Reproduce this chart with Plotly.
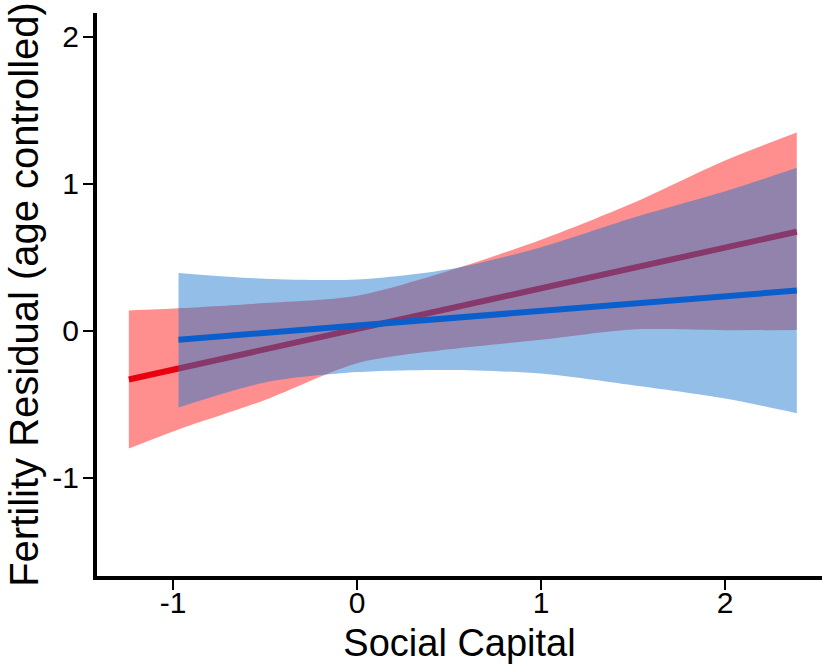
import plotly.graph_objects as go

# ---- data ----
red_band_x = [-1.24, -0.97, -0.5, 0.0, 0.5, 1.0, 1.5, 2.0, 2.39]
red_upper = [0.14, 0.155, 0.19, 0.24, 0.41, 0.62, 0.87, 1.16, 1.35]
red_lower = [-0.80, -0.67, -0.47, -0.22, -0.125, -0.06, 0.01, 0.005, 0.007]
red_line_x = [-1.24, 2.39]
red_line_y = [-0.33, 0.675]

blue_band_x = [-0.97, -0.5, 0.0, 0.5, 1.0, 1.5, 2.0, 2.39]
blue_upper = [0.395, 0.355, 0.35, 0.42, 0.57, 0.77, 0.95, 1.11]
blue_lower = [-0.52, -0.35, -0.28, -0.265, -0.29, -0.37, -0.46, -0.56]
blue_line_x = [-0.97, 2.39]
blue_line_y = [-0.06, 0.275]

x_tickvals = [-1, 0, 1, 2]
x_ticktext = ["-1", "0", "1", "2"]
y_tickvals = [-1, 0, 1, 2]
y_ticktext = ["-1", "0", "1", "2"]

x_title = "Social Capital"
y_title = "Fertility Residual (age controlled)"

FONT = "Liberation Sans, Arial, sans-serif"
XR = [-1.413, 2.527]
YR = [-1.667, 2.163]

fig = go.Figure()

def add_band(xs, up, lo, color, xa, ya):
    fig.add_trace(go.Scatter(x=xs, y=lo, mode="lines", line=dict(width=0, shape="spline", smoothing=0.8),
                             hoverinfo="skip", showlegend=False, xaxis=xa, yaxis=ya))
    fig.add_trace(go.Scatter(x=xs, y=up, mode="lines", line=dict(width=0, shape="spline", smoothing=0.8),
                             fill="tonexty", fillcolor=color,
                             hoverinfo="skip", showlegend=False, xaxis=xa, yaxis=ya))

# red group on the base axes
add_band(red_band_x, red_upper, red_lower, "rgba(255,0,0,0.44)", "x", "y")
fig.add_trace(go.Scatter(x=red_line_x, y=red_line_y, mode="lines",
                         line=dict(color="#E8000E", width=6), showlegend=False,
                         xaxis="x", yaxis="y"))
# blue group on overlaid axes (drawn on top)
add_band(blue_band_x, blue_upper, blue_lower, "rgba(28,120,207,0.48)", "x2", "y2")
fig.add_trace(go.Scatter(x=blue_line_x, y=blue_line_y, mode="lines",
                         line=dict(color="#0A5FCC", width=6), showlegend=False,
                         xaxis="x2", yaxis="y2"))

fig.update_layout(
    width=822, height=664,
    margin=dict(l=97, r=0, t=13, b=88),
    paper_bgcolor="white", plot_bgcolor="white",
    font=dict(family=FONT, color="black"),
    showlegend=False,
    xaxis2=dict(overlaying="x", range=XR, visible=False),
    yaxis2=dict(overlaying="y", range=YR, visible=False),
)
fig.update_layout(
    xaxis=dict(
        range=XR, showgrid=False, zeroline=False,
        showline=True, linecolor="black", linewidth=4,
        ticks="outside", ticklen=10, tickwidth=2, tickcolor="black",
        tickvals=x_tickvals, ticktext=x_ticktext,
        tickfont=dict(size=30, family=FONT), ticklabelstandoff=-13,
        title=dict(text=x_title, font=dict(size=38, family=FONT), standoff=12),
        automargin=False,
    ),
    yaxis=dict(
        range=YR, showgrid=False, zeroline=False,
        showline=True, linecolor="black", linewidth=4,
        ticks="outside", ticklen=10, tickwidth=2, tickcolor="black",
        tickvals=y_tickvals, ticktext=y_ticktext,
        tickfont=dict(size=30, family=FONT), ticklabelstandoff=-2,
        title=dict(text=y_title, font=dict(size=40, family=FONT), standoff=2),
        automargin=False,
    ),
)

fig.write_html("out.html")
